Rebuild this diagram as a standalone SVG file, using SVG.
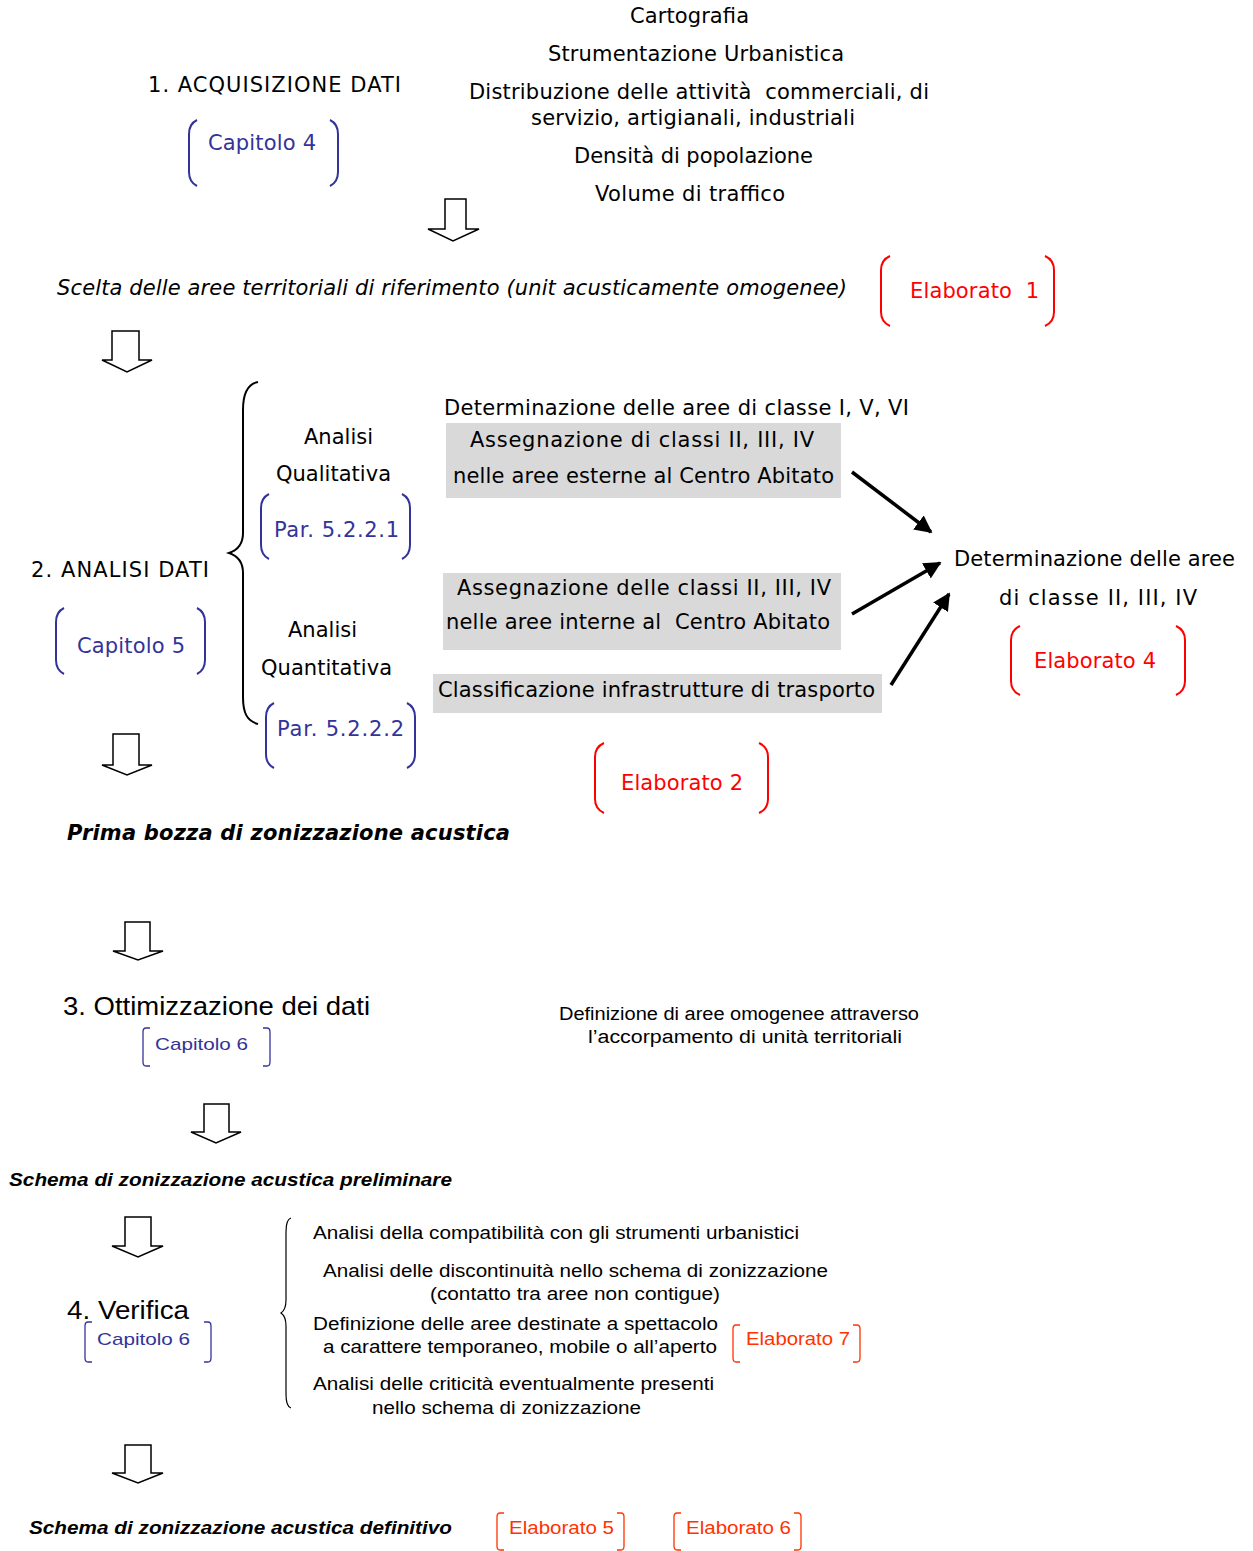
<svg xmlns="http://www.w3.org/2000/svg" width="1253" height="1551" viewBox="0 0 1253 1551">
<style>
.v{font-family:"DejaVu Sans","Verdana",sans-serif;font-size:21px;fill:#000}
.vi{font-style:italic}
.vb{font-weight:bold;font-style:italic}
.a{font-family:"Liberation Sans",Arial,sans-serif;fill:#000}
.blue{fill:#333399}
.red{fill:#ff0000}
.ored{fill:#ff3300}
.bb{fill:none;stroke:#333399;stroke-width:2}
.rb{fill:none;stroke:#ff0000;stroke-width:2}
.tbb{fill:none;stroke:#333399;stroke-width:1.3}
.trb{fill:none;stroke:#ff3300;stroke-width:1.3}
.blk{fill:#fff;stroke:#000;stroke-width:1.5}
.brace{fill:none;stroke:#000;stroke-width:2}
.brace2{fill:none;stroke:#000;stroke-width:1.2}
.gray{fill:#d9d9d9}
.conn{stroke:#000;stroke-width:3.5;fill:none}
</style>
<defs>
<marker id="ah" viewBox="0 0 10 10" refX="9" refY="5" markerWidth="5" markerHeight="5" orient="auto" markerUnits="strokeWidth">
<path d="M0,0 L10,5 L0,10 z" fill="#000"/>
</marker>
</defs>

<g id="inputs">
<text class="v" x="630" y="23" textLength="119">Cartografia</text>
<text class="v" x="548" y="61" textLength="296">Strumentazione Urbanistica</text>
<text class="v" x="469" y="99" textLength="460" xml:space="preserve">Distribuzione delle attività  commerciali, di</text>
<text class="v" x="531" y="125" textLength="324">servizio, artigianali, industriali</text>
<text class="v" x="574" y="163" textLength="239">Densità di popolazione</text>
<text class="v" x="595" y="201" textLength="190">Volume di traffico</text>
</g>

<g id="step1">
<text class="v" x="148" y="92" textLength="253">1. ACQUISIZIONE DATI</text>
</g>
<g id="capitolo4">
<path class="bb" d="M197,120 Q189,124 189,134 L189,172 Q189,182 197,186"/>
<path class="bb" d="M330,120 Q338,124 338,134 L338,172 Q338,182 330,186"/>
<text class="v blue" x="208" y="150" textLength="108">Capitolo 4</text>
</g>

<g id="scelta">
<text class="v vi" x="57" y="295" textLength="790">Scelta delle aree territoriali di riferimento (unit acusticamente omogenee)</text>
</g>
<g id="elaborato1">
<path class="rb" d="M890,256 Q881,260 881,270 L881,312 Q881,322 890,326"/>
<path class="rb" d="M1045,256 Q1054,260 1054,270 L1054,312 Q1054,322 1045,326"/>
<text class="v red" x="910" y="298" textLength="129" xml:space="preserve">Elaborato  1</text>
</g>

<g id="step2">
<text class="v" x="31" y="577" textLength="178">2. ANALISI DATI</text>
</g>
<g id="capitolo5">
<path class="bb" d="M64,608 Q56,612 56,622 L56,660 Q56,670 64,674"/>
<path class="bb" d="M197,608 Q205,612 205,622 L205,660 Q205,670 197,674"/>
<text class="v blue" x="77" y="653" textLength="108">Capitolo 5</text>
</g>

<g id="qualitativa">
<text class="v" x="304" y="444" textLength="69">Analisi</text>
<text class="v" x="276" y="481" textLength="115">Qualitativa</text>
<path class="bb" d="M269,494 Q261,498 261,508 L261,545 Q261,555 269,559"/>
<path class="bb" d="M402,494 Q410,498 410,508 L410,545 Q410,555 402,559"/>
<text class="v blue" x="274" y="537" textLength="125">Par. 5.2.2.1</text>
</g>

<g id="quantitativa">
<text class="v" x="288" y="637" textLength="69">Analisi</text>
<text class="v" x="261" y="675" textLength="131">Quantitativa</text>
<path class="bb" d="M274,703 Q266,707 266,717 L266,754 Q266,764 274,768"/>
<path class="bb" d="M407,703 Q415,707 415,717 L415,754 Q415,764 407,768"/>
<text class="v blue" x="277" y="736" textLength="127">Par. 5.2.2.2</text>
</g>

<g id="classiIVVI">
<text class="v" x="444" y="415" textLength="465">Determinazione delle aree di classe I, V, VI</text>
</g>
<g id="esterne">
<rect class="gray" x="446" y="423" width="395" height="75"/>
<text class="v" x="470" y="447" textLength="344">Assegnazione di classi II, III, IV</text>
<text class="v" x="453" y="483" textLength="381">nelle aree esterne al Centro Abitato</text>
</g>
<g id="interne">
<rect class="gray" x="443" y="573" width="398" height="77"/>
<text class="v" x="457" y="595" textLength="374">Assegnazione delle classi II, III, IV</text>
<text class="v" x="446" y="629" textLength="384" xml:space="preserve">nelle aree interne al  Centro Abitato</text>
</g>
<g id="infrastrutture">
<rect class="gray" x="433" y="674" width="449" height="39"/>
<text class="v" x="438" y="697" textLength="437">Classificazione infrastrutture di trasporto</text>
</g>
<g id="classiIIIIIIV">
<text class="v" x="954" y="566" textLength="281">Determinazione delle aree</text>
<text class="v" x="999" y="605" textLength="198">di classe II, III, IV</text>
</g>
<g id="elaborato4">
<path class="rb" d="M1020,626 Q1011,630 1011,640 L1011,681 Q1011,691 1020,695"/>
<path class="rb" d="M1176,626 Q1185,630 1185,640 L1185,681 Q1185,691 1176,695"/>
<text class="v red" x="1034" y="668" textLength="122">Elaborato 4</text>
</g>
<g id="elaborato2">
<path class="rb" d="M604,743 Q595,747 595,757 L595,799 Q595,809 604,813"/>
<path class="rb" d="M759,743 Q768,747 768,757 L768,799 Q768,809 759,813"/>
<text class="v red" x="621" y="790" textLength="122">Elaborato 2</text>
</g>

<g id="primabozza">
<text class="v vb" x="67" y="840" textLength="443">Prima bozza di zonizzazione acustica</text>
</g>

<g id="step3">
<text class="a" x="63" y="1015" font-size="25" textLength="307" lengthAdjust="spacingAndGlyphs">3. Ottimizzazione dei dati</text>
</g>
<g id="capitolo6a">
<path class="tbb" d="M150,1028 L146,1028 Q143,1028 143,1032 L143,1062 Q143,1066 146,1066 L150,1066"/>
<path class="tbb" d="M263,1028 L267,1028 Q270,1028 270,1032 L270,1062 Q270,1066 267,1066 L263,1066"/>
<text class="a blue" x="155" y="1050" font-size="17" textLength="93" lengthAdjust="spacingAndGlyphs">Capitolo 6</text>
</g>
<g id="accorpamento">
<text class="a" x="559" y="1020" font-size="18" textLength="360" lengthAdjust="spacingAndGlyphs">Definizione di aree omogenee attraverso</text>
<text class="a" x="588" y="1043" font-size="18" textLength="314" lengthAdjust="spacingAndGlyphs">l’accorpamento di unità territoriali</text>
</g>

<g id="preliminare">
<text class="a" x="9" y="1186" font-size="18" font-weight="bold" font-style="italic" textLength="443" lengthAdjust="spacingAndGlyphs">Schema di zonizzazione acustica preliminare</text>
</g>

<g id="step4">
<text class="a" x="67" y="1319" font-size="25" textLength="122" lengthAdjust="spacingAndGlyphs">4. Verifica</text>
</g>
<g id="capitolo6b">
<path class="tbb" d="M92,1322 L88,1322 Q85,1322 85,1326 L85,1358 Q85,1362 88,1362 L92,1362"/>
<path class="tbb" d="M204,1322 L208,1322 Q211,1322 211,1326 L211,1358 Q211,1362 208,1362 L204,1362"/>
<text class="a blue" x="97" y="1345" font-size="17" textLength="93" lengthAdjust="spacingAndGlyphs">Capitolo 6</text>
</g>

<g id="verifiche">
<text class="a" x="313" y="1239" font-size="17.5" textLength="486" lengthAdjust="spacingAndGlyphs">Analisi della compatibilità con gli strumenti urbanistici</text>
<text class="a" x="323" y="1277" font-size="17.5" textLength="505" lengthAdjust="spacingAndGlyphs">Analisi delle discontinuità nello schema di zonizzazione</text>
<text class="a" x="430" y="1300" font-size="17.5" textLength="290" lengthAdjust="spacingAndGlyphs">(contatto tra aree non contigue)</text>
<text class="a" x="313" y="1330" font-size="17.5" textLength="405" lengthAdjust="spacingAndGlyphs">Definizione delle aree destinate a spettacolo</text>
<text class="a" x="323" y="1353" font-size="17.5" textLength="394" lengthAdjust="spacingAndGlyphs">a carattere temporaneo, mobile o all’aperto</text>
<text class="a" x="313" y="1390" font-size="17.5" textLength="401" lengthAdjust="spacingAndGlyphs">Analisi delle criticità eventualmente presenti</text>
<text class="a" x="372" y="1414" font-size="17.5" textLength="269" lengthAdjust="spacingAndGlyphs">nello schema di zonizzazione</text>
</g>
<g id="elaborato7">
<path class="trb" d="M740,1325 L736,1325 Q733,1325 733,1329 L733,1358 Q733,1362 736,1362 L740,1362"/>
<path class="trb" d="M853,1325 L857,1325 Q860,1325 860,1329 L860,1358 Q860,1362 857,1362 L853,1362"/>
<text class="a ored" x="746" y="1345" font-size="17.5" textLength="104" lengthAdjust="spacingAndGlyphs">Elaborato 7</text>
</g>

<g id="definitivo">
<text class="a" x="29" y="1534" font-size="18" font-weight="bold" font-style="italic" textLength="423" lengthAdjust="spacingAndGlyphs">Schema di zonizzazione acustica definitivo</text>
</g>
<g id="elaborato5">
<path class="trb" d="M504,1513 L500,1513 Q497,1513 497,1517 L497,1546 Q497,1550 500,1550 L504,1550"/>
<path class="trb" d="M617,1513 L621,1513 Q624,1513 624,1517 L624,1546 Q624,1550 621,1550 L617,1550"/>
<text class="a ored" x="509" y="1534" font-size="17.5" textLength="105" lengthAdjust="spacingAndGlyphs">Elaborato 5</text>
</g>
<g id="elaborato6">
<path class="trb" d="M681,1513 L677,1513 Q674,1513 674,1517 L674,1546 Q674,1550 677,1550 L681,1550"/>
<path class="trb" d="M794,1513 L798,1513 Q801,1513 801,1517 L801,1546 Q801,1550 798,1550 L794,1550"/>
<text class="a ored" x="686" y="1534" font-size="17.5" textLength="105" lengthAdjust="spacingAndGlyphs">Elaborato 6</text>
</g>

<g id="connectors">
<polygon class="blk" points="445,199 466,199 466,229 479,229 453,241 428,229 445,229"/>
<polygon class="blk" points="112,331 139,331 139,360 152,360 127,372 102,360 112,360"/>
<polygon class="blk" points="113,734 139,734 139,765 152,765 127,775 102,765 113,765"/>
<polygon class="blk" points="125,922 150,922 150,951 163,951 138,960 113,951 125,951"/>
<polygon class="blk" points="204,1104 229,1104 229,1132 241,1132 216,1143 191,1132 204,1132"/>
<polygon class="blk" points="125,1217 151,1217 151,1246 163,1246 138,1257 112,1246 125,1246"/>
<polygon class="blk" points="125,1445 151,1445 151,1473 163,1473 138,1483 112,1473 125,1473"/>
<path class="brace" d="M258,382 C247,384 243,394 243,410 L243,533 C243,544 238,550 229,553 C238,556 243,562 243,573 L243,697 C243,713 247,721 258,724"/>
<path class="brace2" d="M291,1218 C287,1219 286,1224 286,1232 L286,1300 C286,1307 284,1311 281,1313 C284,1315 286,1319 286,1326 L286,1394 C286,1402 287,1407 291,1408"/>
<line class="conn" x1="852" y1="472" x2="931" y2="532" marker-end="url(#ah)"/>
<line class="conn" x1="852" y1="614" x2="940" y2="563" marker-end="url(#ah)"/>
<line class="conn" x1="891" y1="685" x2="949" y2="594" marker-end="url(#ah)"/>
</g>
</svg>
